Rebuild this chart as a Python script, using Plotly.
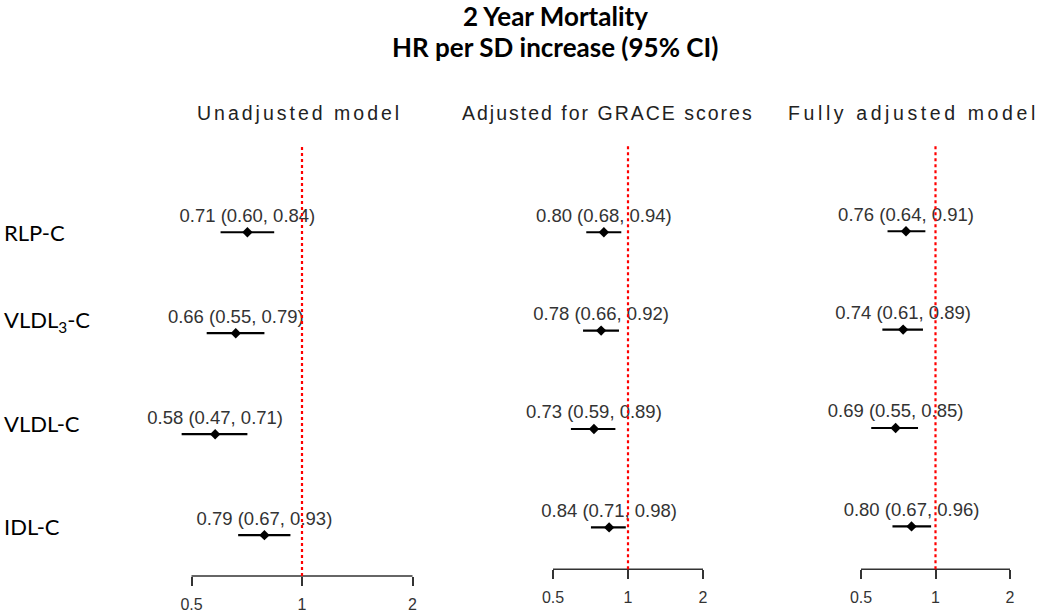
import math
import json
import plotly.graph_objects as go

# ---------------- data ----------------
rows = ["RLP-C", "VLDL<sub>3</sub>-C", "VLDL-C", "IDL-C"]
models = ["Unadjusted model", "Adjusted for GRACE scores", "Fully adjusted model"]

hr_unadj = [0.71, 0.66, 0.58, 0.79]
lo_unadj = [0.60, 0.55, 0.47, 0.67]
hi_unadj = [0.84, 0.79, 0.71, 0.93]

hr_grace = [0.80, 0.78, 0.73, 0.84]
lo_grace = [0.68, 0.66, 0.59, 0.71]
hi_grace = [0.94, 0.92, 0.89, 0.98]

hr_full = [0.76, 0.74, 0.69, 0.80]
lo_full = [0.64, 0.61, 0.55, 0.67]
hi_full = [0.91, 0.89, 0.85, 0.96]

tick_vals = [0.5, 1, 2]
tick_text = ["0.5", "1", "2"]
ref_value = 1

title_lines = ["2 Year Mortality", "HR per SD increase (95% CI)"]

# ---------------- layout constants (pixels) ----------------
W, H = 1050, 613
panels = [
    dict(c=302.0, s=110.5, dom=(140, 445), y0=233.0, dy=101.3, bot=578.0),
    dict(c=628.0, s=75.0, dom=(470, 790), y0=233.0, dy=98.7, bot=571.0),
    dict(c=935.5, s=74.5, dom=(800, 1050), y0=232.0, dy=98.7, bot=571.0),
]
top_px = 145.0
series = [(hr_unadj, lo_unadj, hi_unadj), (hr_grace, lo_grace, hi_grace), (hr_full, lo_full, hi_full)]
title_x = [299, 608, 913]
title_spacing = [3.0, 2.0, 3.6]

def py(px):
    return 1 - px / H

fig = go.Figure()
n = len(rows)
yvals = [n - i for i in range(n)]  # 4,3,2,1

for k, (p, (hr, lo, hi)) in enumerate(zip(panels, series)):
    sfx = "" if k == 0 else str(k + 1)
    xa, ya = "x" + sfx, "y" + sfx
    xs, ys = [], []
    for l, h, yv in zip(lo, hi, yvals):
        xs += [l, h, None]
        ys += [yv, yv, None]
    fig.add_trace(go.Scatter(x=xs, y=ys, mode="lines", line=dict(color="black", width=2.2),
                             xaxis=xa, yaxis=ya, hoverinfo="skip", showlegend=False))
    labels = [f"{a:.2f} ({b:.2f}, {c:.2f})" for a, b, c in zip(hr, lo, hi)]
    fig.add_trace(go.Scatter(x=hr, y=yvals, mode="markers+text", text=labels,
                             textposition="top center",
                             textfont=dict(family="Liberation Sans, Arial", size=18.5, color="#333333"),
                             marker=dict(symbol="diamond", size=8, color="black"),
                             cliponaxis=False, xaxis=xa, yaxis=ya, showlegend=False))
    l2 = math.log10(2)
    xr = [(p["dom"][0] - p["c"]) / p["s"] * l2, (p["dom"][1] - p["c"]) / p["s"] * l2]
    y_bottom = n - (p["bot"] - p["y0"]) / p["dy"]
    y_top = n + (p["y0"] - top_px) / p["dy"]
    fig.layout["xaxis" + sfx] = dict(
        type="log", range=xr, domain=[p["dom"][0] / W, p["dom"][1] / W],
        anchor=ya, tickvals=tick_vals, ticktext=tick_text, ticks="outside",
        ticklen=9, tickwidth=1.5, tickcolor="#333333", showline=False, showgrid=False,
        zeroline=False, ticklabelstandoff=5,
        tickfont=dict(family="Liberation Sans, Arial", size=16, color="#333333"),
        fixedrange=True)
    fig.layout["yaxis" + sfx] = dict(
        range=[y_bottom, y_top], domain=[py(p["bot"]), py(top_px)], anchor=xa,
        visible=False, showgrid=False, zeroline=False, fixedrange=True)
    fig.add_shape(type="line", xref=xa, yref=ya + " domain", x0=tick_vals[0], x1=tick_vals[-1],
                  y0=0, y1=0, line=dict(color="#333333", width=1.5))
    fig.add_shape(type="line", xref=xa, yref=ya + " domain", x0=ref_value, x1=ref_value,
                  y0=0, y1=1, line=dict(color="red", width=2.2, dash="dot"))
    fig.add_annotation(text=models[k], xref="paper", yref="paper", x=title_x[k] / W, y=py(113),
                       showarrow=False, xanchor="center", yanchor="middle",
                       font=dict(family="Liberation Sans, Arial", size=19.5, color="#222222"))

row_label_y = [233, 322, 425, 528]
for lab, yp in zip(rows, row_label_y):
    fig.add_annotation(text=lab, xref="paper", yref="paper", x=2 / W, y=py(yp),
                       showarrow=False, xanchor="left", yanchor="middle",
                       font=dict(family="Lato, Liberation Sans", size=22, color="black"))

for line, yp in zip(title_lines, [16, 47]):
    fig.add_annotation(text="<b>" + line + "</b>", xref="paper", yref="paper", x=555 / W, y=py(yp),
                       showarrow=False, xanchor="center", yanchor="middle",
                       font=dict(family="Lato, Liberation Sans", size=26, color="black"))

fig.update_layout(width=W, height=H, margin=dict(l=0, r=0, t=0, b=0),
                  paper_bgcolor="white", plot_bgcolor="white", showlegend=False)

spacing_map = json.dumps(dict(zip(models, title_spacing)))
post = """
document.body.style.margin = '0';
document.body.style.padding = '0';
function applySpacing() {
  var m = %s;
  document.querySelectorAll('.annotation-text').forEach(function (t) {
    var s = m[t.textContent];
    if (s !== undefined) { t.style.letterSpacing = s + 'px'; }
  });
}
applySpacing();
setTimeout(applySpacing, 50);
""" % spacing_map

fig.write_html("out.html", post_script=post, config={"displayModeBar": False})
